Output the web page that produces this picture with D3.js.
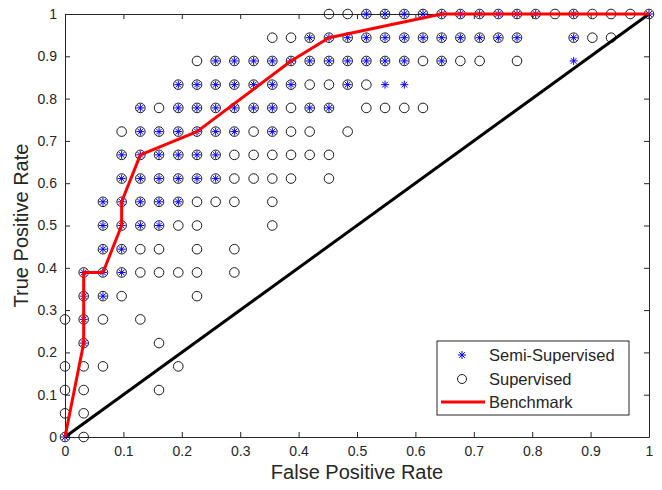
<!DOCTYPE html>
<html>
<head>
<meta charset="utf-8">
<script src="https://cdn.jsdelivr.net/npm/d3@7"></script>
<style>
  body { margin: 0; background: #fff; }
  svg text { font-family: "Liberation Sans", Arial, Helvetica, sans-serif; fill: #262626; }
</style>
</head>
<body>
<div id="chart"></div>
<script>
// ticks
const xTicks = [0, 0.1, 0.2, 0.3, 0.4, 0.5, 0.6, 0.7, 0.8, 0.9, 1];
const yTicks = [0, 0.1, 0.2, 0.3, 0.4, 0.5, 0.6, 0.7, 0.8, 0.9, 1];

// supervised: [fpr, [tpr values]]
const supervisedByFpr = [
  [0.000, [0, 0.056, 0.111, 0.167, 0.278]],
  [0.032, [0, 0.056, 0.111, 0.167, 0.222, 0.278, 0.333, 0.389]],
  [0.065, [0.167, 0.278, 0.333, 0.389, 0.444, 0.5, 0.556]],
  [0.097, [0.333, 0.389, 0.444, 0.5, 0.556, 0.611, 0.667, 0.722]],
  [0.129, [0.278, 0.389, 0.444, 0.5, 0.556, 0.611, 0.667, 0.722, 0.778]],
  [0.161, [0.111, 0.222, 0.389, 0.444, 0.5, 0.556, 0.611, 0.667, 0.722, 0.778]],
  [0.194, [0.167, 0.389, 0.5, 0.556, 0.611, 0.667, 0.722, 0.778, 0.833]],
  [0.226, [0.333, 0.389, 0.444, 0.5, 0.556, 0.611, 0.667, 0.722, 0.778, 0.833, 0.889]],
  [0.258, [0.556, 0.611, 0.667, 0.722, 0.778, 0.833, 0.889]],
  [0.290, [0.389, 0.444, 0.556, 0.611, 0.667, 0.722, 0.778, 0.833, 0.889]],
  [0.323, [0.611, 0.667, 0.722, 0.778, 0.833, 0.889]],
  [0.355, [0.5, 0.556, 0.611, 0.667, 0.722, 0.778, 0.833, 0.889, 0.944]],
  [0.387, [0.611, 0.667, 0.722, 0.778, 0.833, 0.889, 0.944]],
  [0.419, [0.667, 0.722, 0.778, 0.833, 0.889, 0.944]],
  [0.452, [0.611, 0.667, 0.778, 0.833, 0.889, 0.944, 1]],
  [0.484, [0.722, 0.833, 0.889, 0.944, 1]],
  [0.516, [0.778, 0.833, 0.889, 0.944, 1]],
  [0.548, [0.778, 0.889, 0.944, 1]],
  [0.581, [0.778, 0.889, 0.944, 1]],
  [0.613, [0.778, 0.889, 0.944, 1]],
  [0.645, [0.889, 0.944, 1]],
  [0.677, [0.889, 0.944, 1]],
  [0.710, [0.889, 0.944, 1]],
  [0.742, [0.944, 1]],
  [0.774, [0.889, 0.944, 1]],
  [0.806, [1]],
  [0.839, [1]],
  [0.871, [0.944, 1]],
  [0.903, [0.944, 1]],
  [0.935, [0.944, 1]],
  [0.968, [1]],
  [1.000, [1]]
];

// semi-supervised: [fpr, [tpr values]]
const semiByFpr = [
  [0.000, [0]],
  [0.032, [0.222, 0.278, 0.333, 0.389]],
  [0.065, [0.333, 0.389, 0.444, 0.5, 0.556]],
  [0.097, [0.389, 0.444, 0.5, 0.556, 0.611, 0.667]],
  [0.129, [0.5, 0.556, 0.611, 0.667, 0.722, 0.778]],
  [0.161, [0.5, 0.556, 0.611, 0.667, 0.722]],
  [0.194, [0.556, 0.611, 0.667, 0.722, 0.778, 0.833]],
  [0.226, [0.611, 0.667, 0.722, 0.778, 0.833]],
  [0.258, [0.611, 0.667, 0.722, 0.778, 0.833, 0.889]],
  [0.290, [0.722, 0.778, 0.833, 0.889]],
  [0.323, [0.778, 0.833, 0.889]],
  [0.355, [0.722, 0.778, 0.833, 0.889]],
  [0.387, [0.833, 0.889]],
  [0.419, [0.778, 0.889, 0.944]],
  [0.452, [0.778, 0.889, 0.944]],
  [0.484, [0.833, 0.889, 0.944]],
  [0.516, [0.889, 0.944, 1]],
  [0.548, [0.833, 0.889, 0.944, 1]],
  [0.581, [0.833, 0.889, 0.944, 1]],
  [0.613, [0.944, 1]],
  [0.645, [0.889, 0.944, 1]],
  [0.677, [0.944, 1]],
  [0.710, [0.944, 1]],
  [0.742, [0.944, 1]],
  [0.774, [0.944, 1]],
  [0.806, [1]],
  [0.871, [0.889, 0.944, 1]],
  [1.000, [1]]
];

// benchmark ROC curve
const benchFpr = [0, 0.032, 0.032, 0.065, 0.097, 0.097, 0.129, 0.226, 0.387, 0.452, 0.645, 1];
const benchTpr = [0, 0.222, 0.389, 0.389, 0.5, 0.556, 0.667, 0.722, 0.889, 0.944, 1, 1];

// chance line
const chanceFpr = [0, 1];
const chanceTpr = [0, 1];

const legendLabels = ["Semi-Supervised", "Supervised", "Benchmark"];

const W = 662, H = 490;
const plotLeft = 65, plotRight = 649, plotTop = 14, plotBottom = 437;

const svg = d3.select("#chart").append("svg")
  .attr("width", W)
  .attr("height", H);

const x = d3.scaleLinear().domain([0, 1]).range([plotLeft, plotRight]);
const y = d3.scaleLinear().domain([0, 1]).range([plotBottom, plotTop]);

const flat = rows => rows.flatMap(r => r[1].map(t => ({ fpr: r[0], tpr: t })));
const supervised = flat(supervisedByFpr);
const semi = flat(semiByFpr);

const axisColor = "#262626";
const fmt = d => d === 0 ? "0" : d === 1 ? "1" : d3.format(".1f")(d);

// axes with inward ticks
const gx = svg.append("g").attr("transform", `translate(0,${plotBottom})`)
  .call(d3.axisBottom(x).tickValues(xTicks).tickSizeInner(-5).tickSizeOuter(0).tickPadding(9).tickFormat(fmt));
const gxTop = svg.append("g").attr("transform", `translate(0,${plotTop})`)
  .call(d3.axisTop(x).tickValues(xTicks).tickSizeInner(-5).tickSizeOuter(0).tickFormat(""));
const gy = svg.append("g").attr("transform", `translate(${plotLeft},0)`)
  .call(d3.axisLeft(y).tickValues(yTicks).tickSizeInner(-5).tickSizeOuter(0).tickPadding(8).tickFormat(fmt));
const gyRight = svg.append("g").attr("transform", `translate(${plotRight},0)`)
  .call(d3.axisRight(y).tickValues(yTicks).tickSizeInner(-5).tickSizeOuter(0).tickFormat(""));

[gx, gxTop, gy, gyRight].forEach(g => {
  g.select(".domain").attr("stroke", axisColor).attr("stroke-width", 1);
  g.selectAll(".tick line").attr("stroke", axisColor);
  g.selectAll(".tick text").attr("font-size", 14).attr("fill", axisColor)
    .style("font-family", "'Liberation Sans', Arial, sans-serif");
});

// axis titles
svg.append("text")
  .attr("x", (plotLeft + plotRight) / 2)
  .attr("y", 479)
  .attr("text-anchor", "middle")
  .attr("font-size", 20)
  .text("False Positive Rate");

svg.append("text")
  .attr("transform", `translate(28,${(plotTop + plotBottom) / 2}) rotate(-90)`)
  .attr("text-anchor", "middle")
  .attr("font-size", 20)
  .text("True Positive Rate");

const starPath = r => {
  const d = r * Math.SQRT1_2;
  return `M${-r},0L${r},0M0,${-r}L0,${r}M${-d},${-d}L${d},${d}M${-d},${d}L${d},${-d}`;
};

// supervised circles
svg.append("g").selectAll("circle")
  .data(supervised)
  .enter()
  .append("circle")
  .attr("cx", d => x(d.fpr))
  .attr("cy", d => y(d.tpr))
  .attr("r", 4.8)
  .attr("fill", "none")
  .attr("stroke", "#1a1a1a")
  .attr("stroke-width", 1);

// semi-supervised stars
svg.append("g").selectAll("path")
  .data(semi)
  .enter()
  .append("path")
  .attr("transform", d => `translate(${x(d.fpr)},${y(d.tpr)})`)
  .attr("d", starPath(4))
  .attr("fill", "none")
  .attr("stroke", "#0000ff")
  .attr("stroke-width", 1);

const line = d3.line().x(d => x(d[0])).y(d => y(d[1]));

svg.append("path")
  .datum(d3.zip(chanceFpr, chanceTpr))
  .attr("d", line)
  .attr("fill", "none")
  .attr("stroke", "#000")
  .attr("stroke-width", 3);

svg.append("path")
  .datum(d3.zip(benchFpr, benchTpr))
  .attr("d", line)
  .attr("fill", "none")
  .attr("stroke", "#ff0000")
  .attr("stroke-width", 3)
  .attr("stroke-linejoin", "round");

// legend
const lg = svg.append("g").attr("transform", "translate(437,341)");
lg.append("rect")
  .attr("width", 192)
  .attr("height", 74)
  .attr("fill", "#fff")
  .attr("stroke", axisColor)
  .attr("stroke-width", 1);

const rowY = [14, 38, 61];
lg.append("path")
  .attr("transform", `translate(25,${rowY[0]})`)
  .attr("d", starPath(4))
  .attr("stroke", "#0000ff")
  .attr("fill", "none");
lg.append("circle")
  .attr("cx", 25).attr("cy", rowY[1]).attr("r", 4.5)
  .attr("fill", "none").attr("stroke", "#1a1a1a");
lg.append("line")
  .attr("x1", 4).attr("x2", 48)
  .attr("y1", rowY[2]).attr("y2", rowY[2])
  .attr("stroke", "#ff0000").attr("stroke-width", 3);

lg.selectAll("text.lbl")
  .data(legendLabels)
  .enter()
  .append("text")
  .attr("class", "lbl")
  .attr("x", 52)
  .attr("y", (d, i) => rowY[i])
  .attr("dy", "0.35em")
  .attr("font-size", 16.5)
  .text(d => d);
</script>
</body>
</html>
